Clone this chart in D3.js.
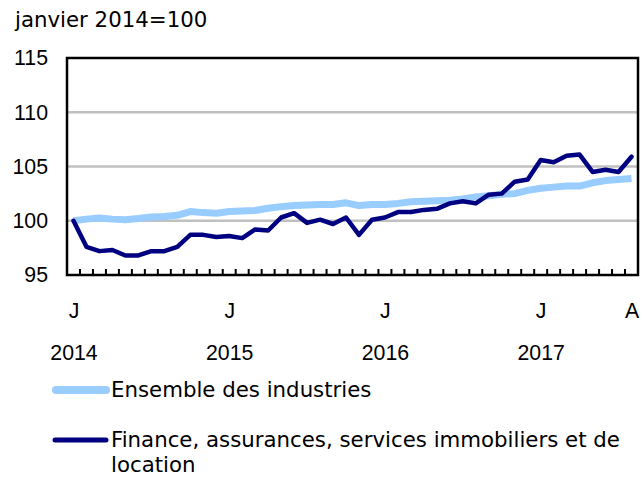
<!DOCTYPE html>
<html>
<head>
<meta charset="utf-8">
<script src="https://cdn.jsdelivr.net/npm/d3@7"></script>
<style>
  body { margin: 0; background: #fff; }
  svg { display: block; font-family: "DejaVu Sans", Verdana, sans-serif; }
</style>
</head>
<body>
<svg></svg>
<script>
var width = 642,
    height = 479

// months Jan 2014 .. Aug 2017
var months = [
    "2014-01", "2014-02", "2014-03", "2014-04", "2014-05", "2014-06", "2014-07", "2014-08", "2014-09", "2014-10", "2014-11", "2014-12",
    "2015-01", "2015-02", "2015-03", "2015-04", "2015-05", "2015-06", "2015-07", "2015-08", "2015-09", "2015-10", "2015-11", "2015-12",
    "2016-01", "2016-02", "2016-03", "2016-04", "2016-05", "2016-06", "2016-07", "2016-08", "2016-09", "2016-10", "2016-11", "2016-12",
    "2017-01", "2017-02", "2017-03", "2017-04", "2017-05", "2017-06", "2017-07", "2017-08"
];

var ensemble = [
    100.0, 100.15, 100.25, 100.15, 100.1, 100.2, 100.35, 100.4, 100.5, 100.85, 100.75, 100.7,
    100.85, 100.9, 100.95, 101.15, 101.3, 101.4, 101.45, 101.5, 101.5, 101.65, 101.4, 101.5,
    101.5, 101.6, 101.75, 101.8, 101.85, 101.9, 102.0, 102.2, 102.3, 102.45, 102.5, 102.8,
    103.0, 103.1, 103.2, 103.2, 103.5, 103.7, 103.8, 103.9
];

var finance = [
    100.0, 97.6, 97.2, 97.3, 96.8, 96.8, 97.2, 97.2, 97.6, 98.7, 98.7, 98.5,
    98.6, 98.4, 99.2, 99.1, 100.3, 100.7, 99.8, 100.1, 99.7, 100.3, 98.7, 100.1,
    100.3, 100.8, 100.8, 101.0, 101.1, 101.6, 101.8, 101.6, 102.4, 102.5, 103.6, 103.8,
    105.6, 105.4, 106.0, 106.1, 104.5, 104.7, 104.5, 105.9
];

var tickMonths = ["2014-01", "2015-01", "2016-01", "2017-01", "2017-08"];
var tickLetters = ["J", "J", "J", "J", "A"];
var yearMonths = ["2014-01", "2015-01", "2016-01", "2017-01"];
var yearLabels = ["2014", "2015", "2016", "2017"];
var yTicks = [95, 100, 105, 110, 115];
var gridValues = [100, 105, 110];

var seriesNames = ["Ensemble des industries", "Finance, assurances, services immobiliers et de location"];

var plotLeft = 67, plotRight = 638, plotTop = 58, plotBottom = 275;
var fontSize = 21.3;

var svg = d3.select("svg")
    .attr("width", width)
    .attr("height", height);

var x = d3.scaleBand()
    .domain(months)
    .range([plotLeft, plotRight]);

var xc = function (m) { return x(m) + x.bandwidth() / 2; };

var y = d3.scaleLinear()
    .domain([95, 115])
    .range([plotBottom, plotTop]);

// unit label
svg.append("text")
    .attr("x", 15)
    .attr("y", 27)
    .attr("font-size", fontSize)
    .text("janvier 2014=100");

// gridlines
svg.append("g")
    .selectAll("line")
    .data(gridValues)
    .enter()
    .append("line")
    .attr("x1", plotLeft)
    .attr("x2", plotRight)
    .attr("y1", function (d) { return y(d); })
    .attr("y2", function (d) { return y(d); })
    .attr("stroke", "#c0c0c0")
    .attr("stroke-width", 2.5);

// y axis labels
var yAxis = svg.append("g")
    .attr("transform", "translate(" + plotLeft + ",0)")
    .call(d3.axisLeft(y).tickValues(yTicks).tickSize(0).tickPadding(19).tickFormat(d3.format("d")));
yAxis.select(".domain").remove();
yAxis.selectAll("text").attr("font-size", fontSize).attr("font-family", null).attr("fill", "#000");

// month ticks between bands, pointing up
svg.append("g")
    .selectAll("line")
    .data(months.slice(1))
    .enter()
    .append("line")
    .attr("x1", function (d) { return x(d); })
    .attr("x2", function (d) { return x(d); })
    .attr("y1", plotBottom)
    .attr("y2", plotBottom - 6)
    .attr("stroke", "#000")
    .attr("stroke-width", 2);

// x labels: month letters, then years
var xPoint = d3.scalePoint().domain(months).range([xc(months[0]), xc(months[months.length - 1])]);

var xAxis = svg.append("g")
    .attr("transform", "translate(0," + plotBottom + ")")
    .call(d3.axisBottom(xPoint).tickValues(tickMonths).tickSize(0).tickPadding(28)
        .tickFormat(function (d, i) { return tickLetters[i]; }));
xAxis.select(".domain").remove();
xAxis.selectAll("text").attr("font-size", fontSize).attr("font-family", null).attr("fill", "#000");

var yearAxis = svg.append("g")
    .attr("transform", "translate(0," + plotBottom + ")")
    .call(d3.axisBottom(xPoint).tickValues(yearMonths).tickSize(0).tickPadding(70)
        .tickFormat(function (d, i) { return yearLabels[i]; }));
yearAxis.select(".domain").remove();
yearAxis.selectAll("text").attr("font-size", fontSize).attr("font-family", null).attr("fill", "#000");

// lines
var line = d3.line()
    .x(function (d, i) { return xc(months[i]); })
    .y(function (d) { return y(d); });

svg.append("path")
    .datum(ensemble)
    .attr("fill", "none")
    .attr("stroke", "#99ccff")
    .attr("stroke-width", 7)
    .attr("stroke-linejoin", "round")
    .attr("d", line);

svg.append("path")
    .datum(finance)
    .attr("fill", "none")
    .attr("stroke", "#000080")
    .attr("stroke-width", 4.5)
    .attr("stroke-linejoin", "round")
    .attr("stroke-linecap", "round")
    .attr("d", line);

// frame
svg.append("rect")
    .attr("x", plotLeft)
    .attr("y", plotTop)
    .attr("width", plotRight - plotLeft)
    .attr("height", plotBottom - plotTop)
    .attr("fill", "none")
    .attr("stroke", "#000")
    .attr("stroke-width", 2.5);

// legend
var legend = svg.append("g").attr("font-size", fontSize);

legend.append("line")
    .attr("x1", 56).attr("x2", 106)
    .attr("y1", 390).attr("y2", 390)
    .attr("stroke", "#99ccff")
    .attr("stroke-width", 8)
    .attr("stroke-linecap", "round");

legend.append("text")
    .attr("x", 111).attr("y", 390).attr("dy", "0.35em")
    .text(seriesNames[0]);

legend.append("line")
    .attr("x1", 55).attr("x2", 106)
    .attr("y1", 440).attr("y2", 440)
    .attr("stroke", "#000080")
    .attr("stroke-width", 5)
    .attr("stroke-linecap", "round");

legend.append("text")
    .attr("x", 111).attr("y", 440).attr("dy", "0.35em")
    .text("Finance, assurances, services immobiliers et de");

legend.append("text")
    .attr("x", 111).attr("y", 465).attr("dy", "0.35em")
    .text("location");
</script>
</body>
</html>
